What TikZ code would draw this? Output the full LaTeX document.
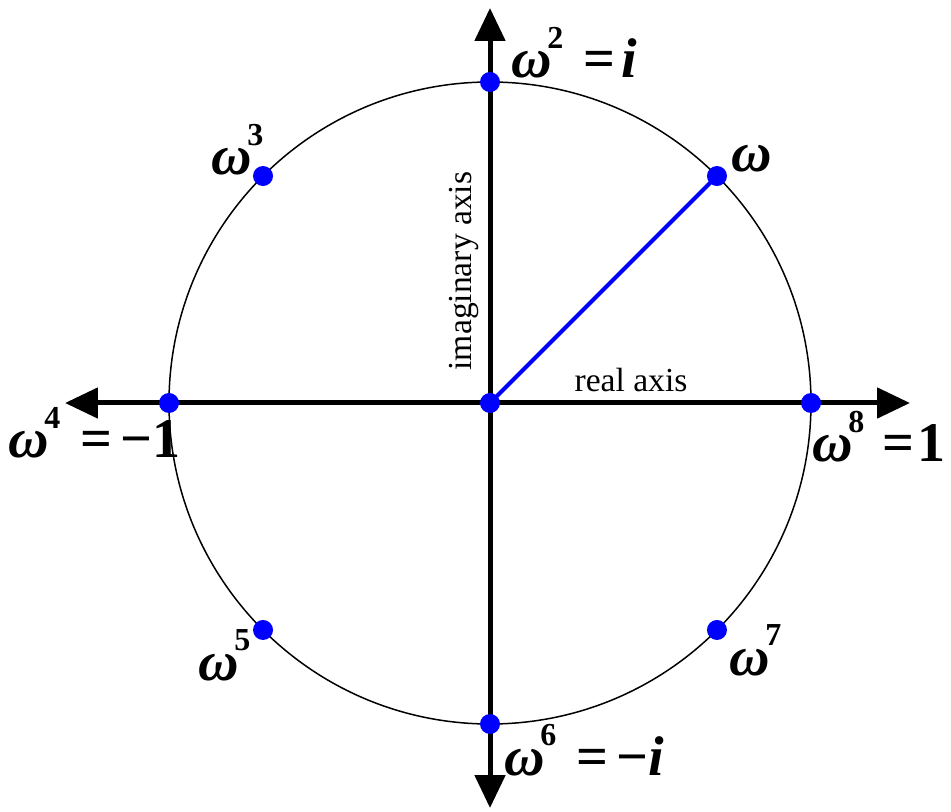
\documentclass[tikz,border=0pt]{standalone}
\usepackage{fontspec}
\setmainfont{Liberation Serif}
\usetikzlibrary{arrows.meta}

% omega with an upright bold exponent
\newcommand{\pw}[1]{ω\kern-0.08em\raisebox{0.52em}{\fontsize{16}{16}\selectfont\upshape #1}}

\begin{document}
\begin{tikzpicture}[
  x=0.5pt, y=0.5pt,
  axis/.style={line width=2.5pt, {Triangle[length=16.5pt,width=15pt]}-{Triangle[length=16.5pt,width=15pt]}},
  root/.style={circle, fill=blue, inner sep=0pt, minimum size=10pt},
  lab/.style={anchor=base west, inner sep=0pt, font=\fontsize{28}{30}\selectfont\bfseries\itshape},
  axlab/.style={inner sep=0pt, font=\fontsize{16.8}{20}\selectfont},
]
\useasboundingbox (-490,-409) rectangle (461,403);
% axes and unit circle
\coordinate (O) at (0,0);
\coordinate (xl) at (-425,0);
\coordinate (xr) at (420,0);
\coordinate (yb) at (0,-405);
\coordinate (yt) at (0,395);
\draw[line width=0.75pt] (O) circle[radius=321];
\draw[axis] (xl) -- (xr);
\draw[axis] (yb) -- (yt);
\node[axlab, anchor=base] (rlab) at (141,11) {real axis};
\node[axlab, rotate=90] (ilab) at (-26,132) {imaginary axis};
% the eighth roots of unity
\coordinate (w1) at (45:321);
\draw[blue, line width=2pt] (O) -- (w1);
\foreach \k in {0,...,7}
  \node[root] (r\k) at (\k*45:321) {};
\node[root] (r8) at (O) {};
% labels
\node[lab] (l1) at (241,231) {ω};
\node[lab] (l2) at (21,325) {\pw{2}\hspace{0.35em}{\upshape=}\hspace{0.12em}i};
\node[lab] (l3) at (-279,228) {\pw{3}};
\node[lab] (l4) at (-482,-55) {\pw{4}\hspace{0.35em}{\upshape=\hspace{0.15em}−1}};
\node[lab] (l5) at (-292,-277) {\pw{5}};
\node[lab] (l6) at (14,-372) {\pw{6}\hspace{0.35em}{\upshape=\hspace{0.15em}−}i};
\node[lab] (l7) at (239,-272) {\pw{7}};
\node[lab] (l8) at (322,-59) {\pw{8}\hspace{0.33em}{\upshape=}\hspace{0.05em}{\upshape 1}};
\end{tikzpicture}
\end{document}
